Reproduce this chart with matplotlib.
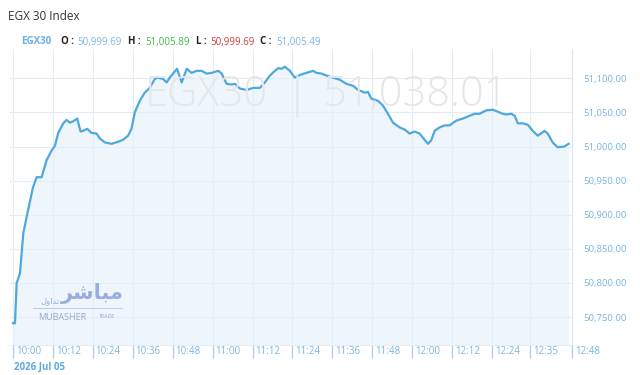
import numpy as np
import matplotlib
matplotlib.use("Agg")
import matplotlib.pyplot as plt
import matplotlib.transforms as mtransforms

plt.rcParams['font.family'] = ['Open Sans', 'DejaVu Sans']

# minutes after 10:00 and index level
minutes = [0, 0.6, 1.1, 2.1, 3.1, 4.5, 6.0, 7.1, 8.6, 10.1, 11.6, 12.6, 13.6, 15.1, 16.1, 17.1,
           18.1, 19.3, 20.3, 21.1, 22.3, 23.6, 25.1, 26.1, 27.6, 29.6, 31.6, 33.1, 34.6, 35.6,
           36.6, 38.1, 39.6, 41.1, 42.6, 43.6, 45.1, 46.2, 47.1, 48.1, 49.3, 50.7, 52.2, 53.7,
           55.2, 56.7, 58.2, 59.7, 61.7, 62.7, 64.2, 65.7, 66.7, 68.2, 70.2, 72.2, 74.2, 75.7,
           77.2, 78.7, 79.7, 80.7, 81.7, 83.2, 84.7, 86.2, 88.2, 90.2, 91.2, 92.7, 94.2, 96.2,
           98.2, 100.2, 102.2, 103.7, 105.7, 106.7, 107.7, 109.7, 111.2, 112.7, 114.2, 116.2,
           117.7, 119.2, 120.7, 122.2, 123.7, 124.7, 125.7, 126.7, 128.2, 129.7, 131.2, 133.2,
           135.2, 137.2, 138.7, 140.2, 142.2, 144.2, 145.7, 147.2, 148.2, 149.8, 150.8, 151.7,
           153.2, 154.7, 156.2, 157.7, 158.7, 159.7, 160.7, 162.2, 163.7, 165.7, 167.0]
index_values = [50741, 50741, 50800, 50814, 50873, 50906, 50940, 50955, 50955, 50980, 50994,
                51001, 51020, 51034, 51039, 51035, 51037, 51041, 51022, 51023, 51026, 51020,
                51019, 51012, 51006, 51004, 51007, 51010, 51016, 51026, 51050, 51067, 51079,
                51086, 51099, 51101, 51099, 51094, 51101, 51107, 51114, 51094, 51114, 51108,
                51111, 51111, 51107, 51108, 51111, 51107, 51092, 51091, 51092, 51085, 51083,
                51086, 51086, 51094, 51104, 51111, 51115, 51114, 51117, 51111, 51101, 51105,
                51108, 51111, 51108, 51107, 51104, 51101, 51098, 51092, 51089, 51083, 51079,
                51080, 51070, 51067, 51060, 51048, 51035, 51028, 51025, 51019, 51022, 51019,
                51010, 51004, 51009, 51023, 51028, 51031, 51031, 51038, 51041, 51045, 51048,
                51048, 51053, 51054, 51051, 51048, 51047, 51048, 51045, 51034, 51034, 51032,
                51023, 51016, 51019, 51023, 51019, 51006, 50999, 51000, 51004]

tick_minutes = [0, 12, 24, 36, 48, 60, 72, 84, 96, 108, 120, 132, 144, 155.5, 168]
tick_labels = ['10:00', '10:12', '10:24', '10:36', '10:48', '11:00', '11:12', '11:24',
               '11:36', '11:48', '12:00', '12:12', '12:24', '12:35', '12:48']
y_ticks = [50750, 50800, 50850, 50900, 50950, 51000, 51050, 51100]

ohlc_names = ['O', 'H', 'L', 'C']
ohlc_values = ['50,999.69', '51,005.89', '50,999.69', '51,005.49']
last_value = '51,038.01'

line_col = '#4ea8de'
label_col = '#78b4e2'
grid_col = '#e4ecf3'

fig = plt.figure(figsize=(6.4, 3.75), dpi=100)
ax = fig.add_axes([10/640, 1-345/375, 562/640, 296/375])

ax.fill_between(minutes, index_values, 50600, color='#e3f1fb', alpha=0.6, lw=0, zorder=1)
ax.plot(minutes, index_values, color=line_col, lw=1.6, zorder=3)

ax.set_xlim(-0.9, 168)
ax.set_ylim(50709, 51143)

ax.set_yticks(y_ticks)
ax.set_yticklabels(['{:,.2f}'.format(v) for v in y_ticks])
ax.yaxis.tick_right()
ax.tick_params(axis='y', length=0, pad=8, labelsize=6.8, labelcolor=label_col)

ax.set_xticks(tick_minutes)
ax.set_xticklabels(tick_labels)
ax.tick_params(axis='x', length=9.5, width=0.9, color='#a9cdea', pad=-9,
               labelsize=7, labelcolor=label_col)
offset = mtransforms.ScaledTranslation(2/72, 0, fig.dpi_scale_trans)
for lab in ax.get_xticklabels():
    lab.set_ha('left')
    lab.set_transform(lab.get_transform() + offset)
ax.set_xticks([0], minor=True)
ax.tick_params(axis='x', which='minor', length=20, width=0.9, color='#a9cdea')

ax.grid(True, color=grid_col, lw=0.8)
ax.set_axisbelow(True)
for side in ['top', 'left']:
    ax.spines[side].set_visible(False)
ax.spines['right'].set_color('#dce7f0')
ax.spines['bottom'].set_color('#e4edf5')

# big watermark
wm = dict(fontsize=30, color='#e6e6e6', fontweight='light', va='center', zorder=2,
          transform=fig.transFigure)
fig.text(268/640, 1-95/375, 'EGX30', ha='right', **wm)
fig.text(297/640, 1-95/375, '|', ha='center', **wm)
fig.text(322/640, 1-95/375, last_value, ha='left', **wm)

# logo watermark
logo_col = '#8ea6dc'
fig.text(92/640, 1-293/375, '\ufeae\ufeb7\ufe8e\ufe92\ufee3', ha='center', va='center',
         fontsize=15, fontweight='bold', color=logo_col, family='DejaVu Sans', alpha=0.9)
fig.text(50/640, 1-301/375, '\ufedd\ufeed\ufe8d\ufeaa\ufe97', ha='center', va='center',
         fontsize=6, color=logo_col, family='DejaVu Sans', alpha=0.9)
fig.add_artist(plt.Line2D([33/640, 122/640], [1-308/375, 1-308/375], color='#b8c6e6', lw=0.6))
fig.text(38/640, 1-317/375, 'MUBASHER', ha='left', va='center', fontsize=6.5,
         color='#93a7cf')
fig.text(99/640, 1-317/375, 'TRADE', ha='left', va='center', fontsize=3.8,
         color='#93a7cf')

# header
fig.text(8/640, 1-17/375, 'EGX 30 Index', ha='left', va='center', fontsize=8.5, color='#333333')
hy = 1-42/375
fig.text(21/640, hy, 'EGX30', ha='left', va='center', fontsize=7, fontweight='bold', color='#6ab0e2')
name_x = [61, 128, 196, 260]
val_x = [77, 145, 210, 276]
val_cols = ['#7ab6e4', '#3cb84a', '#d43a3a', '#7ab6e4']
for n, v, nx, vx, c in zip(ohlc_names, ohlc_values, name_x, val_x, val_cols):
    fig.text(nx/640, hy, n + ' :', ha='left', va='center', fontsize=7, fontweight='bold', color='#222222')
    fig.text(vx/640, hy, v, ha='left', va='center', fontsize=7, color=c)

fig.text(14/640, 1-367/375, '2026 Jul 05', ha='left', va='center', fontsize=7,
         fontweight='bold', color='#5ea9df')

fig.savefig('out.png', dpi=100)
